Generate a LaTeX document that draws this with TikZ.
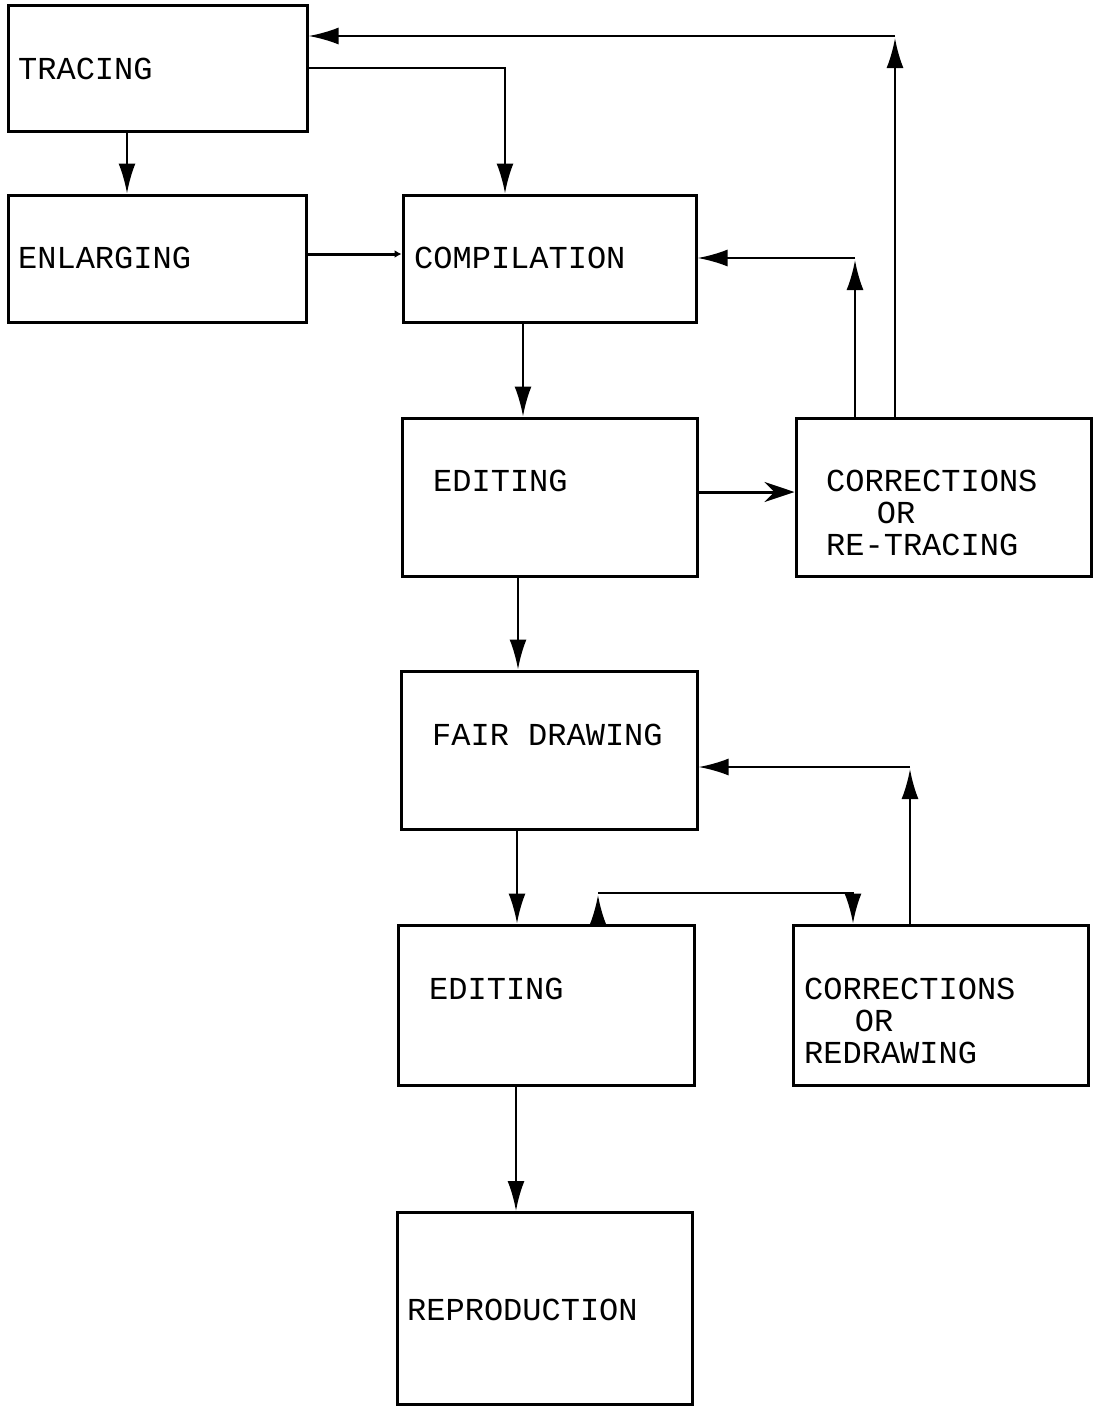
\documentclass[tikz,border=0pt]{standalone}
\usepackage{fontspec}
\setmonofont{Liberation Mono}
\usetikzlibrary{arrows.meta,calc}
\begin{document}
\begin{tikzpicture}[x=1pt,y=-1pt,
  box/.style={draw,line width=3pt,inner sep=0pt},
  lbl/.style={anchor=base west,inner sep=0pt,font=\fontsize{32}{32}\selectfont\ttfamily,align=left},
  conn/.style={line width=2.4pt},
  arr/.style={conn,-{Latex[length=30pt,width=17pt]}},
  sarr/.style={conn,-{Stealth[length=30pt,width=20pt,inset=10pt]}}]
\useasboundingbox (0,0) rectangle (1100,1406);
% boxes
\node[box,minimum width=299pt,minimum height=126pt] (tracing) at (157.5,68) {};
\node[box,minimum width=298pt,minimum height=127pt] (enlarging) at (157,258.5) {};
\node[box,minimum width=293pt,minimum height=127pt] (compilation) at (549.5,258.5) {};
\node[box,minimum width=295pt,minimum height=158pt] (edit1) at (549.5,497) {};
\node[box,minimum width=295pt,minimum height=158pt] (corr1) at (943.5,497) {};
\node[box,minimum width=296pt,minimum height=158pt] (fair) at (549,750) {};
\node[box,minimum width=296pt,minimum height=160pt] (edit2) at (546,1005) {};
\node[box,minimum width=295pt,minimum height=160pt] (corr2) at (940.5,1005) {};
\node[box,minimum width=295pt,minimum height=192pt] (repro) at (544.5,1308.5) {};
% labels
\node[lbl] (tTracing) at (18,79) {TRACING};
\node[lbl] (tEnlarging) at (18,268) {ENLARGING};
\node[lbl] (tCompilation) at (414,268) {COMPILATION};
\node[lbl] (tEdit1) at (433,491) {EDITING};
\node[lbl] (tCorr1) at (826,555) {CORRECTIONS\\\hspace*{3ex}OR\\RE-TRACING};
\node[lbl] (tFair) at (432,745) {FAIR DRAWING};
\node[lbl] (tEdit2) at (429,999) {EDITING};
\node[lbl] (tCorr2) at (804,1063) {CORRECTIONS\\\hspace*{3ex}OR\\REDRAWING};
\node[lbl] (tRepro) at (407,1320) {REPRODUCTION};
% helper coordinates
\coordinate (xa) at (127,0);
\coordinate (xb) at (505,68);
\coordinate (xc) at (523,0);
\coordinate (xd) at (518,0);
\coordinate (xe) at (517,0);
\coordinate (xf) at (516,0);
\coordinate (ya) at (0,254);
\coordinate (yb) at (0,492);
\coordinate (k1) at (895,36);
\coordinate (k2) at (855,258);
\coordinate (k3) at (598,893);
\coordinate (k4) at (853,893);
\coordinate (k5) at (910,767);
% connectors
\draw[arr] (tracing.south -| xa) -- (enlarging.north -| xa);
\draw[arr] (tracing.east |- xb) -- (xb) -- (compilation.north -| xb);
\draw[conn,line width=3pt,-{Latex[length=7pt,width=8pt]}] (enlarging.east |- ya) -- (compilation.west |- ya);
\draw[arr] (compilation.south -| xc) -- (edit1.north -| xc);
\draw[sarr,line width=3pt] (edit1.east |- yb) -- (corr1.west |- yb);
\draw[arr] (corr1.north -| k2) -- ($(k2)+(0,2)$);
\draw[arr] (k2) -- (compilation.east |- k2);
\draw[arr] (corr1.north -| k1) -- ($(k1)+(0,2)$);
\draw[arr] (k1) -- (tracing.east |- k1);
\draw[arr] (edit1.south -| xd) -- (fair.north -| xd);
\draw[arr] (fair.south -| xe) -- (edit2.north -| xe);
\draw[arr] (edit2.north -| k3) -- ($(k3)+(0,2)$);
\draw[arr] (k3) -- (k4) -- (corr2.north -| k4);
\draw[arr] (corr2.north -| k5) -- ($(k5)+(0,2)$);
\draw[arr] (k5) -- (fair.east |- k5);
\draw[arr] (edit2.south -| xf) -- (repro.north -| xf);
\end{tikzpicture}
\end{document}
